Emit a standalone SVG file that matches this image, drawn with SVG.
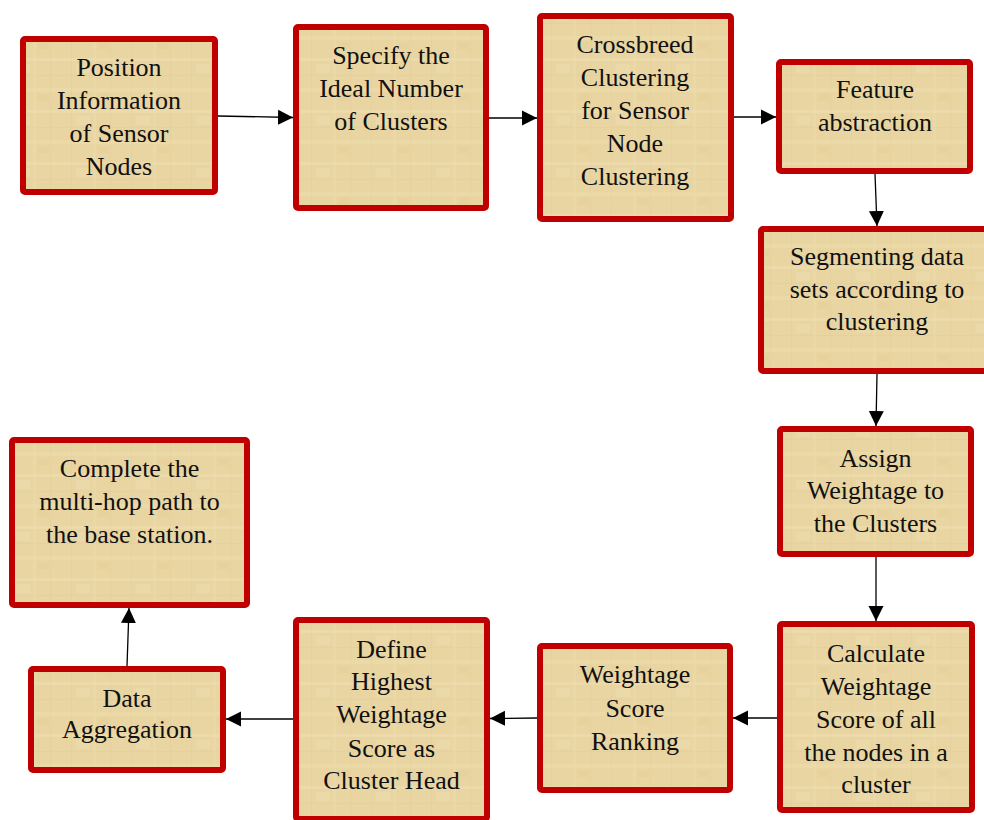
<svg xmlns="http://www.w3.org/2000/svg" width="984" height="820" viewBox="0 0 984 820">
<defs>
<pattern id="parch" width="60" height="52" patternUnits="userSpaceOnUse">
<rect width="60" height="52" fill="#E9D5A2"/>
<rect x="0" y="6" width="60" height="3" fill="#F0E1B7" opacity="0.45"/>
<rect x="0" y="23" width="60" height="1" fill="#DCC48E" opacity="0.25"/>
<rect x="0" y="36" width="60" height="4" fill="#EFDFB4" opacity="0.35"/>
<rect x="11" y="0" width="1" height="52" fill="#DCC48E" opacity="0.25"/>
<rect x="33" y="0" width="3" height="52" fill="#EEDDB2" opacity="0.35"/>
<rect x="50" y="0" width="1" height="52" fill="#DAC28A" opacity="0.2"/>
<rect x="16" y="12" width="14" height="9" fill="#F1E3BC" opacity="0.3"/>
<rect x="38" y="42" width="11" height="7" fill="#E0C992" opacity="0.25"/>
</pattern>
<marker id="ah" markerUnits="userSpaceOnUse" markerWidth="16" markerHeight="16" viewBox="0 0 16 16" refX="15" refY="8" orient="auto">
<path d="M0,0.5 L15,8 L0,15.5 Z" fill="#000"/>
</marker>
<style>
.box{fill:url(#parch);stroke:#C00000;stroke-width:6}
.t{font-family:"Liberation Serif","Times New Roman",serif;font-size:26px;fill:#111;text-anchor:middle}
.c{stroke:#000;stroke-width:1.3;fill:none;marker-end:url(#ah)}
</style>
</defs>
<rect width="984" height="820" fill="#fff"/>
<g id="connectors">
<path class="c" d="M218,116 L293,117.5"/>
<path class="c" d="M489,118 L537,118"/>
<path class="c" d="M734,117 L776,117"/>
<path class="c" d="M875,174 L877,226"/>
<path class="c" d="M877,374 L876,426"/>
<path class="c" d="M876,557 L876,621"/>
<path class="c" d="M777,718 L733,718"/>
<path class="c" d="M537,718 L490,718.5"/>
<path class="c" d="M293,719 L226,719"/>
<path class="c" d="M127,666 L129,608"/>
</g>
<g id="n1"><rect class="box" x="23" y="39" width="192" height="153" rx="2"/>
<text class="t"><tspan x="119" y="76">Position</tspan><tspan x="119" y="109">Information</tspan><tspan x="119" y="142">of Sensor</tspan><tspan x="119" y="175">Nodes</tspan></text></g>
<g id="n2"><rect class="box" x="296" y="27" width="190" height="181" rx="2"/>
<text class="t"><tspan x="391" y="64">Specify the</tspan><tspan x="391" y="97">Ideal Number</tspan><tspan x="391" y="130">of Clusters</tspan></text></g>
<g id="n3"><rect class="box" x="540" y="16" width="191" height="203" rx="2"/>
<text class="t"><tspan x="635" y="53">Crossbreed</tspan><tspan x="635" y="86">Clustering</tspan><tspan x="635" y="119">for Sensor</tspan><tspan x="635" y="152">Node</tspan><tspan x="635" y="185">Clustering</tspan></text></g>
<g id="n4"><rect class="box" x="779" y="62" width="191" height="109" rx="2"/>
<text class="t"><tspan x="875" y="98">Feature</tspan><tspan x="875" y="131">abstraction</tspan></text></g>
<g id="n5"><rect class="box" x="761" y="229" width="232" height="142" rx="2"/>
<text class="t"><tspan x="877" y="265">Segmenting data</tspan><tspan x="877" y="298">sets according to</tspan><tspan x="877" y="330">clustering</tspan></text></g>
<g id="n6"><rect class="box" x="780" y="429" width="191" height="125" rx="2"/>
<text class="t"><tspan x="875.5" y="467">Assign</tspan><tspan x="875.5" y="499">Weightage to</tspan><tspan x="875.5" y="532">the Clusters</tspan></text></g>
<g id="n7"><rect class="box" x="780" y="624" width="192" height="186" rx="2"/>
<text class="t"><tspan x="876" y="662">Calculate</tspan><tspan x="876" y="695">Weightage</tspan><tspan x="876" y="728">Score of all</tspan><tspan x="876" y="761">the nodes in a</tspan><tspan x="876" y="793">cluster</tspan></text></g>
<g id="n8"><rect class="box" x="540" y="646" width="190" height="144" rx="2"/>
<text class="t"><tspan x="635" y="683">Weightage</tspan><tspan x="635" y="717">Score</tspan><tspan x="635" y="750">Ranking</tspan></text></g>
<g id="n9"><rect class="box" x="296" y="620" width="191" height="199" rx="2"/>
<text class="t"><tspan x="391.5" y="658">Define</tspan><tspan x="391.5" y="690">Highest</tspan><tspan x="391.5" y="723">Weightage</tspan><tspan x="391.5" y="757">Score as</tspan><tspan x="391.5" y="789">Cluster Head</tspan></text></g>
<g id="n10"><rect class="box" x="31" y="669" width="192" height="101" rx="2"/>
<text class="t"><tspan x="127" y="707">Data</tspan><tspan x="127" y="738">Aggregation</tspan></text></g>
<g id="n11"><rect class="box" x="12" y="440" width="235" height="165" rx="2"/>
<text class="t"><tspan x="129.5" y="477">Complete the</tspan><tspan x="129.5" y="510">multi-hop path to</tspan><tspan x="129.5" y="543">the base station.</tspan></text></g>
</svg>
